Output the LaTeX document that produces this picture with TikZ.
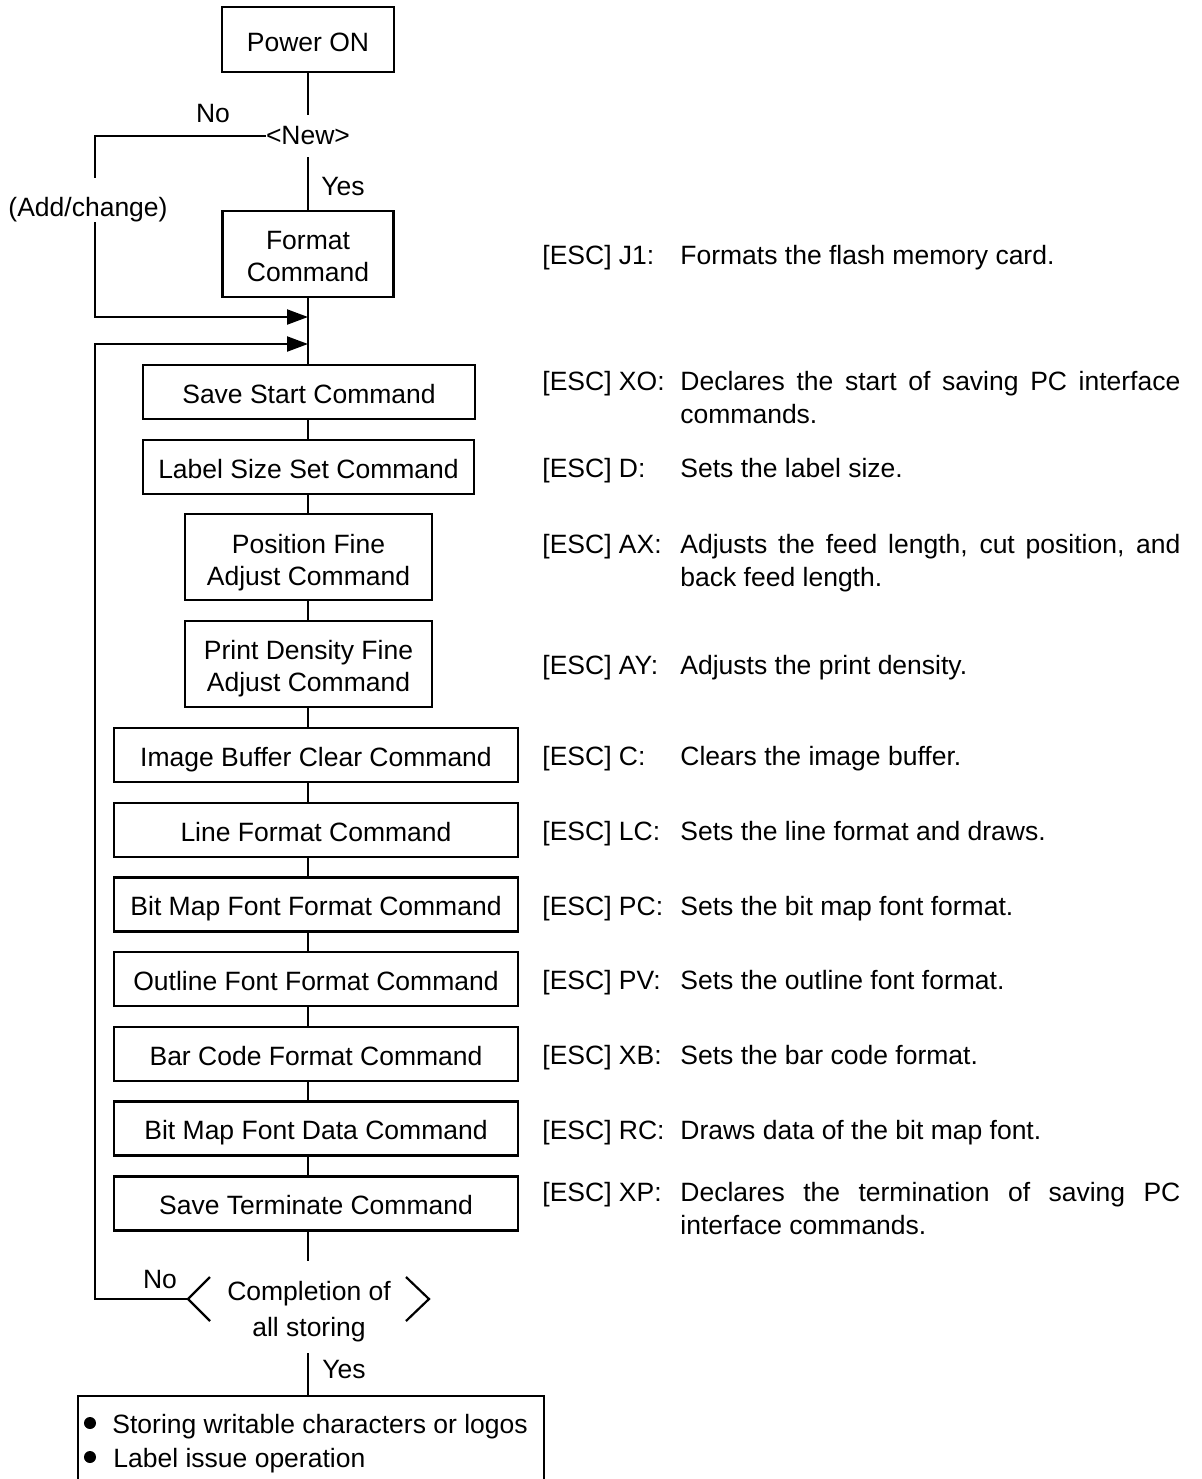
\documentclass[tikz,border=0pt]{standalone}
\usepackage{fontspec}
\setmainfont{Liberation Sans}
\usetikzlibrary{arrows.meta}
\newcommand\fsz{\fontsize{13.25pt}{16pt}\selectfont}
\begin{document}
\begin{tikzpicture}[x=0.5pt,y=-0.5pt,
  every node/.style={font=\fsz},
  conn/.style={line width=1.1pt},
  box/.style={draw, line width=1.1pt, inner sep=0pt, align=center, text height=11pt, text depth=0pt},
  smallbox/.style={box, minimum width=202pt, minimum height=27pt},
  arr/.style={line width=1.1pt, -{Triangle[length=10.5pt,width=7.5pt]}},
  lbl/.style={anchor=base west, inner sep=0pt},
  ctr/.style={anchor=base, inner sep=0pt}]
\useasboundingbox (0,0) rectangle (1201,1479);
\clip (0,0) rectangle (1201,1479);

\coordinate (spine) at (308,0);

% flow boxes
\node[box, minimum width=86pt, minimum height=32.5pt, text height=12.25pt] (power) at (308,39.5) {Power ON};
\node[inner sep=0pt, minimum height=21pt] (new) at (308,136) {<New>};
\node[box, minimum width=85.5pt, minimum height=43pt] (format) at (308,254) {};
\node[ctr] (format1) at (308,249) {Format};
\node[ctr] (format2) at (308,281) {Command};
\node[box, minimum width=166pt, minimum height=27pt] (savestart) at (309,392) {Save Start Command};
\node[box, minimum width=165.5pt, minimum height=27pt] (labelsize) at (308.5,467) {Label Size Set Command};
\node[box, minimum width=123.5pt, minimum height=43pt] (posfine) at (308.5,557) {};
\node[ctr] (posfine1) at (308.5,553) {Position Fine};
\node[ctr] (posfine2) at (308.5,585) {Adjust Command};
\node[box, minimum width=123.5pt, minimum height=43pt] (density) at (308.5,664) {};
\node[ctr] (density1) at (308.5,659) {Print Density Fine};
\node[ctr] (density2) at (308.5,691) {Adjust Command};
\node[smallbox] (imgbuf) at (316,755) {Image Buffer Clear Command};
\node[smallbox] (linefmt) at (316,830) {Line Format Command};
\node[smallbox] (bmff) at (316,904.5) {Bit Map Font Format Command};
\node[smallbox] (outline) at (316,979) {Outline Font Format Command};
\node[smallbox] (barcode) at (316,1054) {Bar Code Format Command};
\node[smallbox] (bmfd) at (316,1128.5) {Bit Map Font Data Command};
\node[smallbox] (saveterm) at (316,1203.5) {Save Terminate Command};
\node[inner sep=0pt, minimum height=46pt, minimum width=60pt] (done) at (308,1307) {};
\node[ctr] (done1) at (309,1300) {Completion of};
\node[ctr] (done2) at (309,1336) {all storing};
\node[draw, line width=1.1pt, inner sep=0pt, anchor=north west, minimum width=233pt, minimum height=80pt] (final) at (77,1395) {};

% decision brackets
\coordinate (dl) at (188,1299);
\draw[conn] (210,1277) -- (dl) -- (210,1321);
\draw[conn] (406,1277) -- (429,1299) -- (406,1321);

% main connectors
\draw[conn] (power) -- (new);
\draw[conn] (new) -- (format);
\draw[conn] (format.south -| spine) -- (savestart.north -| spine);
\draw[conn] (savestart.south -| spine) -- (labelsize.north -| spine);
\draw[conn] (labelsize.south -| spine) -- (posfine.north -| spine);
\draw[conn] (posfine.south -| spine) -- (density.north -| spine);
\draw[conn] (density.south -| spine) -- (imgbuf.north -| spine);
\draw[conn] (imgbuf.south -| spine) -- (linefmt.north -| spine);
\draw[conn] (linefmt.south -| spine) -- (bmff.north -| spine);
\draw[conn] (bmff.south -| spine) -- (outline.north -| spine);
\draw[conn] (outline.south -| spine) -- (barcode.north -| spine);
\draw[conn] (barcode.south -| spine) -- (bmfd.north -| spine);
\draw[conn] (bmfd.south -| spine) -- (saveterm.north -| spine);
\draw[conn] (saveterm.south -| spine) -- (done.north);
\draw[conn] (done.south) -- (final.north -| spine);

% No branch from <New>
\coordinate (n1) at (95,136);
\coordinate (gaptop) at (95,178);
\coordinate (gapbot) at (95,222);
\coordinate (n2) at (95,317);
\coordinate (m1) at (308,317);
\draw[conn] (new.west) -- (n1) -- (gaptop);
\draw[arr] (gapbot) -- (n2) -- (m1);

% No branch from completion
\coordinate (c1) at (95,1299);
\coordinate (c2) at (95,344);
\coordinate (m2) at (308,344);
\draw[arr] (dl) -- (c1) -- (c2) -- (m2);

% flow labels
\node[ctr] (nolbl1) at (213,122) {No};
\node[lbl] (yeslbl1) at (321,195) {Yes};
\node[ctr] (addchg) at (88,216) {(Add/change)};
\node[ctr] (nolbl2) at (160,1288) {No};
\node[lbl] (yeslbl2) at (322,1378) {Yes};

% final box content
\fill (90,1423) circle[radius=3pt];
\fill (90,1457) circle[radius=3pt];
\node[lbl] (fin1) at (112,1433) {Storing writable characters or logos};
\node[lbl] (fin2) at (113,1467) {Label issue operation};

% right-hand descriptions
\node[lbl] (k1) at (542,264.5) {[ESC] J1:};
\node[lbl] (d1) at (680,264.5) {Formats the flash memory card.};
\node[lbl] (k2) at (542,390.5) {[ESC] XO:};
\node[lbl] (d2a) at (680,390.5) {\makebox[250pt][s]{Declares the start of saving PC interface}};
\node[lbl] (d2b) at (680,423.5) {commands.};
\node[lbl] (k3) at (542,477.5) {[ESC] D:};
\node[lbl] (d3) at (680,477.5) {Sets the label size.};
\node[lbl] (k4) at (542,553.5) {[ESC] AX:};
\node[lbl] (d4a) at (680,553.5) {\makebox[250pt][s]{Adjusts the feed length, cut position, and}};
\node[lbl] (d4b) at (680,586.5) {back feed length.};
\node[lbl] (k5) at (542,674.5) {[ESC] AY:};
\node[lbl] (d5) at (680,674.5) {Adjusts the print density.};
\node[lbl] (k6) at (542,765.5) {[ESC] C:};
\node[lbl] (d6) at (680,765.5) {Clears the image buffer.};
\node[lbl] (k7) at (542,840.5) {[ESC] LC:};
\node[lbl] (d7) at (680,840.5) {Sets the line format and draws.};
\node[lbl] (k8) at (542,915) {[ESC] PC:};
\node[lbl] (d8) at (680,915) {Sets the bit map font format.};
\node[lbl] (k9) at (542,989.5) {[ESC] PV:};
\node[lbl] (d9) at (680,989.5) {Sets the outline font format.};
\node[lbl] (k10) at (542,1064.5) {[ESC] XB:};
\node[lbl] (d10) at (680,1064.5) {Sets the bar code format.};
\node[lbl] (k11) at (542,1139) {[ESC] RC:};
\node[lbl] (d11) at (680,1139) {Draws data of the bit map font.};
\node[lbl] (k12) at (542,1201) {[ESC] XP:};
\node[lbl] (d12a) at (680,1201) {\makebox[250pt][s]{Declares the termination of saving PC}};
\node[lbl] (d12b) at (680,1234) {interface commands.};
\end{tikzpicture}
\end{document}
